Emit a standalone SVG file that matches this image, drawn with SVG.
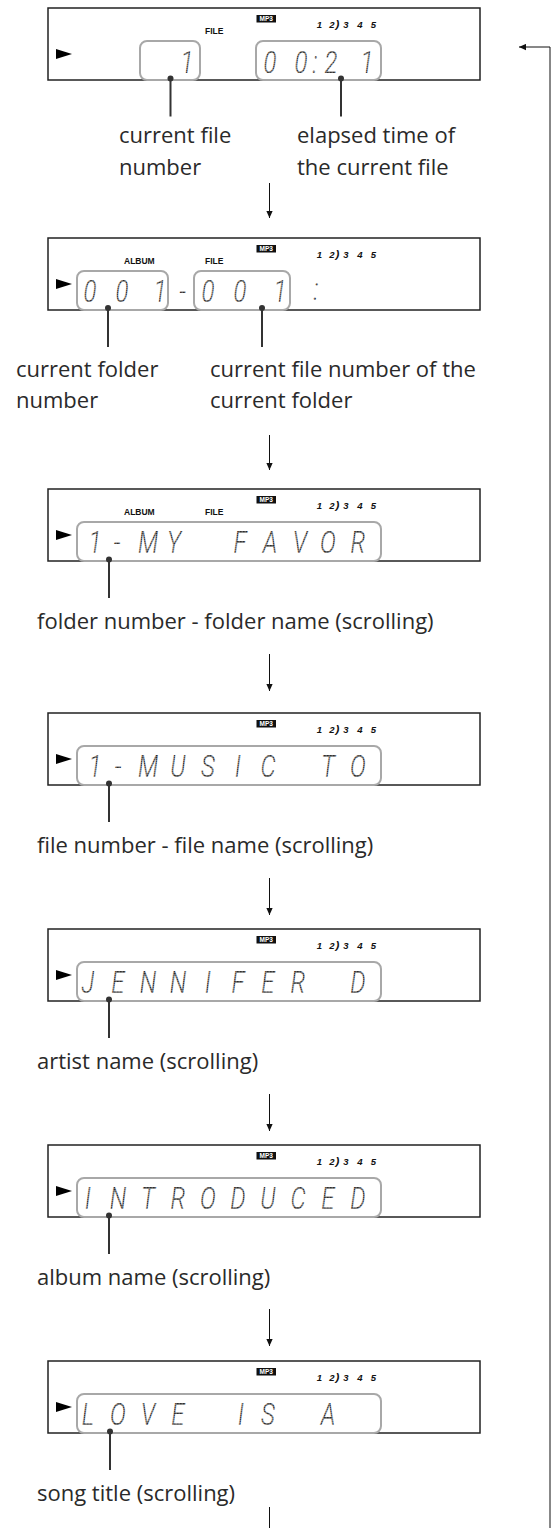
<svg xmlns="http://www.w3.org/2000/svg" width="554" height="1528" viewBox="0 0 554 1528">
<style>
.lbl{font-family:"Open Sans","Noto Sans",sans-serif;font-weight:400;font-size:22px;fill:#2a2a2a}
.ind{font-family:"Liberation Sans",Arial,sans-serif;font-weight:bold;font-size:8.5px;fill:#111}
.num{font-family:"Liberation Sans",Arial,sans-serif;font-weight:bold;font-style:italic;font-size:9.5px;fill:#111;text-anchor:middle}
.mp3{font-family:"Liberation Sans",Arial,sans-serif;font-weight:bold;font-size:6.5px;fill:#fff;text-anchor:middle}
.lcd{font-family:Roboto,Lato,Inter,sans-serif;font-weight:300;font-style:italic;font-size:32px;fill:url(#dots);text-anchor:middle}
.frame{fill:#fff;stroke:#222;stroke-width:1.5}
.win{fill:none;stroke:#a8a8a8;stroke-width:2}
.lead{stroke:#333;stroke-width:2}
.flow{stroke:#111;stroke-width:1;fill:none}
</style>
<defs>
<pattern id="dots" patternUnits="userSpaceOnUse" width="2" height="2">
<rect width="2" height="2" fill="#9a9a9a"/>
<rect width="1.4" height="1.4" fill="#222"/>
</pattern>
<marker id="ah" viewBox="0 0 10 10" refX="10" refY="5" markerWidth="7" markerHeight="7" markerUnits="userSpaceOnUse" orient="auto">
<path d="M0,0.5 L10,5 L0,9.5 z" fill="#111"/>
</marker>
<g id="lcdframe">
<rect class="frame" x="48" y="0" width="432" height="72"/>
<polygon points="56,41 72,46 56,51" fill="#000"/>
<rect x="256.5" y="7" width="19.5" height="7.5" fill="#111"/>
<text class="mp3" x="266.2" y="13.1">MP3</text>
<text class="num" x="319.5 332 337.5 346 360 373.5" y="19.5">12<tspan font-size="11.5px">)</tspan>345</text>
</g>
<rect id="winfull" class="win" x="77" y="33" width="304" height="39" rx="7"/>
</defs>

<g id="display1" transform="translate(0 8)">
<use href="#lcdframe"/>
<text class="ind" x="205" y="25.5">FILE</text>
<rect class="win" x="140" y="33" width="60" height="39" rx="7"/>
<rect class="win" x="256" y="33" width="125" height="39" rx="7"/>
<g transform="scale(0.75 1)">
<text class="lcd" x="249.3" y="65">1</text>
<text class="lcd" x="360 401.3 420 441.3 489.3" y="65">00:21</text>
</g>
</g>

<g id="display2" transform="translate(0 238)">
<use href="#lcdframe"/>
<text class="ind" x="124" y="25.5">ALBUM</text>
<text class="ind" x="205" y="25.5">FILE</text>
<rect class="win" x="77" y="33" width="91" height="39" rx="7"/>
<rect class="win" x="194" y="33" width="96" height="39" rx="7"/>
<g transform="scale(0.75 1)">
<text class="lcd" x="120 162.7 213.3" y="64">001</text>
<text class="lcd" x="243.3" y="64">-</text>
<text class="lcd" x="277.3 320 373.3" y="64">001</text>
<text class="lcd" x="421.3" y="62">:</text>
</g>
</g>

<g id="display3" transform="translate(0 489)">
<use href="#lcdframe"/>
<text class="ind" x="124" y="25.5">ALBUM</text>
<text class="ind" x="205" y="25.5">FILE</text>
<use href="#winfull"/>
<text class="lcd" transform="scale(0.75 1)" x="126.7 156 197.3 232 277.3 320 360 400 437.3 477.3" y="64">1-MY FAVOR</text>
</g>

<g id="display4" transform="translate(0 713)">
<use href="#lcdframe"/>
<use href="#winfull"/>
<text class="lcd" transform="scale(0.75 1)" x="126.7 157.3 197.3 237.3 277.3 317.3 357.3 397.3 437.3 477.3" y="64">1-MUSIC TO</text>
</g>

<g id="display5" transform="translate(0 929)">
<use href="#lcdframe"/>
<use href="#winfull"/>
<text class="lcd" transform="scale(0.75 1)" x="117.3 157.3 197.3 237.3 277.3 317.3 357.3 397.3 437.3 477.3" y="64">JENNIFER D</text>
</g>

<g id="display6" transform="translate(0 1145)">
<use href="#lcdframe"/>
<use href="#winfull"/>
<text class="lcd" transform="scale(0.75 1)" x="117.3 157.3 197.3 237.3 277.3 317.3 357.3 397.3 437.3 477.3" y="64">INTRODUCED</text>
</g>

<g id="display7" transform="translate(0 1361)">
<use href="#lcdframe"/>
<use href="#winfull"/>
<text class="lcd" transform="scale(0.75 1)" x="117.3 157.3 197.3 237.3 277.3 321.3 357.3 397.3 437.3" y="64">LOVE IS A</text>
</g>

<g id="leaders">
<circle cx="170.5" cy="78.5" r="3" fill="#333"/><line class="lead" x1="170.5" y1="78.5" x2="170.5" y2="116.5"/>
<circle cx="341" cy="78.5" r="3" fill="#333"/><line class="lead" x1="341" y1="78.5" x2="341" y2="116.5"/>
<circle cx="108" cy="308" r="3" fill="#333"/><line class="lead" x1="108" y1="308" x2="108" y2="347"/>
<circle cx="262" cy="308" r="3" fill="#333"/><line class="lead" x1="262" y1="308" x2="262" y2="347"/>
<circle cx="109" cy="559.5" r="3" fill="#333"/><line class="lead" x1="109" y1="559.5" x2="109" y2="598"/>
<circle cx="109" cy="783.5" r="3" fill="#333"/><line class="lead" x1="109" y1="783.5" x2="109" y2="822"/>
<circle cx="109" cy="999.5" r="3" fill="#333"/><line class="lead" x1="109" y1="999.5" x2="109" y2="1038"/>
<circle cx="109" cy="1215.5" r="3" fill="#333"/><line class="lead" x1="109" y1="1215.5" x2="109" y2="1254"/>
<circle cx="110" cy="1431.5" r="3" fill="#333"/><line class="lead" x1="110" y1="1431.5" x2="110" y2="1470"/>
</g>

<g id="labels">
<text class="lbl" x="119" y="143">current file</text>
<text class="lbl" x="119" y="175">number</text>
<text class="lbl" x="297" y="143">elapsed time of</text>
<text class="lbl" x="297" y="175">the current file</text>
<text class="lbl" x="16" y="377">current folder</text>
<text class="lbl" x="16" y="408">number</text>
<text class="lbl" x="210" y="377">current file number of the</text>
<text class="lbl" x="210" y="408">current folder</text>
<text class="lbl" x="37" y="629">folder number - folder name (scrolling)</text>
<text class="lbl" x="37" y="853">file number - file name (scrolling)</text>
<text class="lbl" x="37" y="1069">artist name (scrolling)</text>
<text class="lbl" x="37" y="1285">album name (scrolling)</text>
<text class="lbl" x="37" y="1501">song title (scrolling)</text>
</g>

<g id="connectors">
<line class="flow" x1="269.5" y1="183" x2="269.5" y2="218" marker-end="url(#ah)"/>
<line class="flow" x1="269.5" y1="435" x2="269.5" y2="470" marker-end="url(#ah)"/>
<line class="flow" x1="269.5" y1="654" x2="269.5" y2="691" marker-end="url(#ah)"/>
<line class="flow" x1="269.5" y1="878" x2="269.5" y2="915" marker-end="url(#ah)"/>
<line class="flow" x1="269.5" y1="1094" x2="269.5" y2="1131" marker-end="url(#ah)"/>
<line class="flow" x1="269.5" y1="1309" x2="269.5" y2="1346" marker-end="url(#ah)"/>
<line class="flow" x1="269.5" y1="1507" x2="269.5" y2="1528"/>
<polyline class="flow" points="550,1528 550,47 519,47" marker-end="url(#ah)"/>
</g>
</svg>
